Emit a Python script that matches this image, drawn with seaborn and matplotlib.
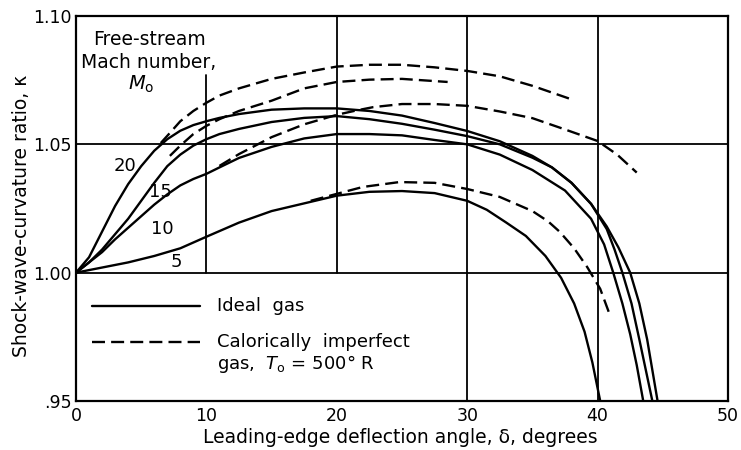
import matplotlib
matplotlib.use("Agg")
import matplotlib.pyplot as plt
import seaborn as sns
import pandas as pd

# ---- data ----
m20_x = [0, 1, 2, 3, 4, 5, 6, 7, 8, 9, 10, 11, 12.5, 15, 17.5, 20, 22.5, 25, 27.5, 30, 32.5, 35, 36.5, 38, 39.5, 40.7, 41.6, 42.5, 43.2, 43.8, 44.2, 44.6]
m20_k = [1.000, 1.006, 1.016, 1.026, 1.0345, 1.0415, 1.0475, 1.052, 1.0553, 1.0575, 1.059, 1.0603, 1.0618, 1.0635, 1.064, 1.064, 1.063, 1.0612, 1.0583, 1.0552, 1.0512, 1.0455, 1.041, 1.035, 1.0268, 1.018, 1.0098, 1.000, 0.988, 0.974, 0.962, 0.950]

m15_x = [0, 1, 2, 3, 4, 5, 6, 7, 8, 9, 10, 11, 12.5, 15, 17.5, 20, 22.5, 25, 27.5, 30, 32.5, 35, 36.5, 38, 39.5, 40.7, 41.3, 41.9, 42.6, 43.2, 43.7, 44.2]
m15_k = [1.000, 1.004, 1.009, 1.015, 1.021, 1.028, 1.035, 1.0415, 1.046, 1.0495, 1.052, 1.054, 1.056, 1.0587, 1.0603, 1.061, 1.0598, 1.058, 1.0557, 1.0532, 1.050, 1.0448, 1.041, 1.035, 1.0268, 1.017, 1.009, 1.000, 0.988, 0.974, 0.962, 0.950]

m10_x = [0, 1, 2, 3, 4, 5, 6, 7, 8, 9, 10, 11, 12.5, 15, 17.5, 20, 22.5, 25, 27.5, 30, 32.5, 35, 37.5, 39.5, 40.5, 41.2, 41.9, 42.5, 43, 43.5]
m10_k = [1.000, 1.004, 1.008, 1.013, 1.0175, 1.022, 1.0265, 1.0305, 1.034, 1.0365, 1.0385, 1.041, 1.0447, 1.049, 1.0523, 1.054, 1.054, 1.0535, 1.0517, 1.050, 1.046, 1.040, 1.032, 1.021, 1.011, 1.000, 0.988, 0.976, 0.964, 0.950]

m5_x = [0, 2, 4, 6, 8, 10, 12.5, 15, 17.5, 20, 22.5, 25, 27.5, 30, 31.5, 33, 34.5, 36, 37.2, 38.2, 39, 39.6, 40.2]
m5_k = [1.000, 1.002, 1.004, 1.0065, 1.0095, 1.014, 1.0195, 1.024, 1.027, 1.030, 1.0315, 1.0318, 1.031, 1.028, 1.0245, 1.0195, 1.0143, 1.0065, 0.998, 0.988, 0.977, 0.965, 0.950]

d20_x = [6.5, 7.3, 8, 9, 10, 11, 12.5, 15, 17.5, 20, 22.5, 25, 27.5, 30, 32.5, 35, 37.9]
d20_k = [1.0505, 1.055, 1.059, 1.063, 1.0662, 1.069, 1.0718, 1.0755, 1.078, 1.0803, 1.081, 1.081, 1.080, 1.0786, 1.0765, 1.0728, 1.0677]

d15_x = [7.2, 8, 9, 10, 11, 12.5, 15, 17.5, 20, 22.5, 25, 28.5]
d15_k = [1.0455, 1.0495, 1.054, 1.0572, 1.0598, 1.063, 1.067, 1.0718, 1.0743, 1.0752, 1.0755, 1.0743]

d10_x = [11, 12.5, 15, 17.5, 20, 21.5, 22.8, 25, 27.5, 30, 32.5, 35, 37.5, 40, 41.5, 43]
d10_k = [1.0416, 1.0462, 1.0528, 1.0578, 1.0615, 1.0632, 1.0645, 1.0657, 1.0657, 1.065, 1.0628, 1.0602, 1.0558, 1.0513, 1.046, 1.039]

d5_x = [18, 20, 22, 24.8, 27.5, 30, 32.5, 35, 36.2, 37.1, 38.2, 39.2, 40.2, 41]
d5_k = [1.028, 1.0307, 1.0334, 1.0353, 1.035, 1.0326, 1.0295, 1.024, 1.020, 1.0159, 1.0095, 1.0022, 0.9937, 0.9827]

mach_labels = ["20", "15", "10", "5"]
mach_label_x = [3.76, 6.44, 6.6, 7.7]
mach_label_k = [1.0416, 1.0314, 1.017, 1.0042]

x_ticks = [0, 10, 20, 30, 40, 50]
y_ticks = [0.95, 1.00, 1.05, 1.10]
y_ticklabels = [".95", "1.00", "1.05", "1.10"]

# ---- plotting ----
sns.set_style("white")
plt.rcParams["font.family"] = ["DejaVu Sans"]
plt.rcParams["text.color"] = "black"
plt.rcParams["axes.labelcolor"] = "black"
plt.rcParams["xtick.color"] = "black"
plt.rcParams["ytick.color"] = "black"

fig = plt.figure(figsize=(7.41, 4.50), dpi=100)
ax = fig.add_axes([76 / 741, 1 - 401 / 450, (728 - 76) / 741, (401 - 16) / 450])

DASH = (0, (5.5, 2.6))
solid = [(m20_x, m20_k), (m15_x, m15_k), (m10_x, m10_k), (m5_x, m5_k)]
dashed = [(d20_x, d20_k), (d15_x, d15_k), (d10_x, d10_k), (d5_x, d5_k)]

for xs, ks in solid:
    df = pd.DataFrame({"x": xs, "k": ks})
    sns.lineplot(data=df, x="x", y="k", ax=ax, sort=False, estimator=None,
                 color="black", lw=1.7, solid_joinstyle="round")
for xs, ks in dashed:
    df = pd.DataFrame({"x": xs, "k": ks})
    sns.lineplot(data=df, x="x", y="k", ax=ax, sort=False, estimator=None,
                 color="black", lw=1.7, linestyle=DASH)

# grid lines (partial, like the reference)
gcol = "black"
glw = 1.3
ax.axhline(1.05, color=gcol, lw=glw, zorder=1)
ax.axhline(1.00, color=gcol, lw=glw, zorder=1)
ax.axvline(10, ymin=(1.00 - 0.95) / 0.15, ymax=(1.077 - 0.95) / 0.15, color=gcol, lw=glw, zorder=1)
ax.axvline(20, ymin=(1.00 - 0.95) / 0.15, ymax=1, color=gcol, lw=glw, zorder=1)
ax.axvline(30, color=gcol, lw=glw, zorder=1)
ax.axvline(40, color=gcol, lw=glw, zorder=1)

ax.set_xlim(0, 50)
ax.set_ylim(0.95, 1.10)
ax.set_xticks(x_ticks)
ax.set_xticklabels([str(t) for t in x_ticks])
ax.set_yticks(y_ticks)
ax.set_yticklabels(y_ticklabels)
ax.tick_params(direction="in", length=6, width=1.3, colors="black", labelsize=12.5, pad=3)
ax.tick_params(axis="x", pad=4)
for sp in ax.spines.values():
    sp.set_color("black")
    sp.set_linewidth(1.6)

ax.set_xlabel("Leading-edge deflection angle, δ, degrees", fontsize=13.5)
ax.set_ylabel("Shock-wave-curvature ratio, κ", fontsize=13.5)
ax.xaxis.label.set_va("center")
ax.xaxis.set_label_coords(0.497, -0.094)
ax.yaxis.label.set_va("center")
ax.yaxis.set_label_coords(-0.083, 0.48)

# Mach number labels
for lab, lx, lk in zip(mach_labels, mach_label_x, mach_label_k):
    ax.text(lx, lk, lab, fontsize=13, ha="center", va="center")

ax.text(5.6, 1.0945, "Free-stream\nMach number,", fontsize=13.5, ha="center", va="top",
        linespacing=1.25)
ax.text(5.0, 1.0735, "$M_\\mathrm{o}$", fontsize=14, ha="center", va="center")

# legend drawn in data space
ax.plot([1.2, 9.5], [0.987, 0.987], color="black", lw=1.7)
ax.text(10.8, 0.987, "Ideal  gas", fontsize=13, ha="left", va="center")
ax.plot([1.2, 9.5], [0.973, 0.973], color="black", lw=1.7, linestyle=DASH)
ax.text(10.8, 0.9765, "Calorically  imperfect\ngas,  $T_\\mathrm{o}$ = 500° R", fontsize=13,
        ha="left", va="top", linespacing=1.1)

fig.savefig("out.png", dpi=100)
